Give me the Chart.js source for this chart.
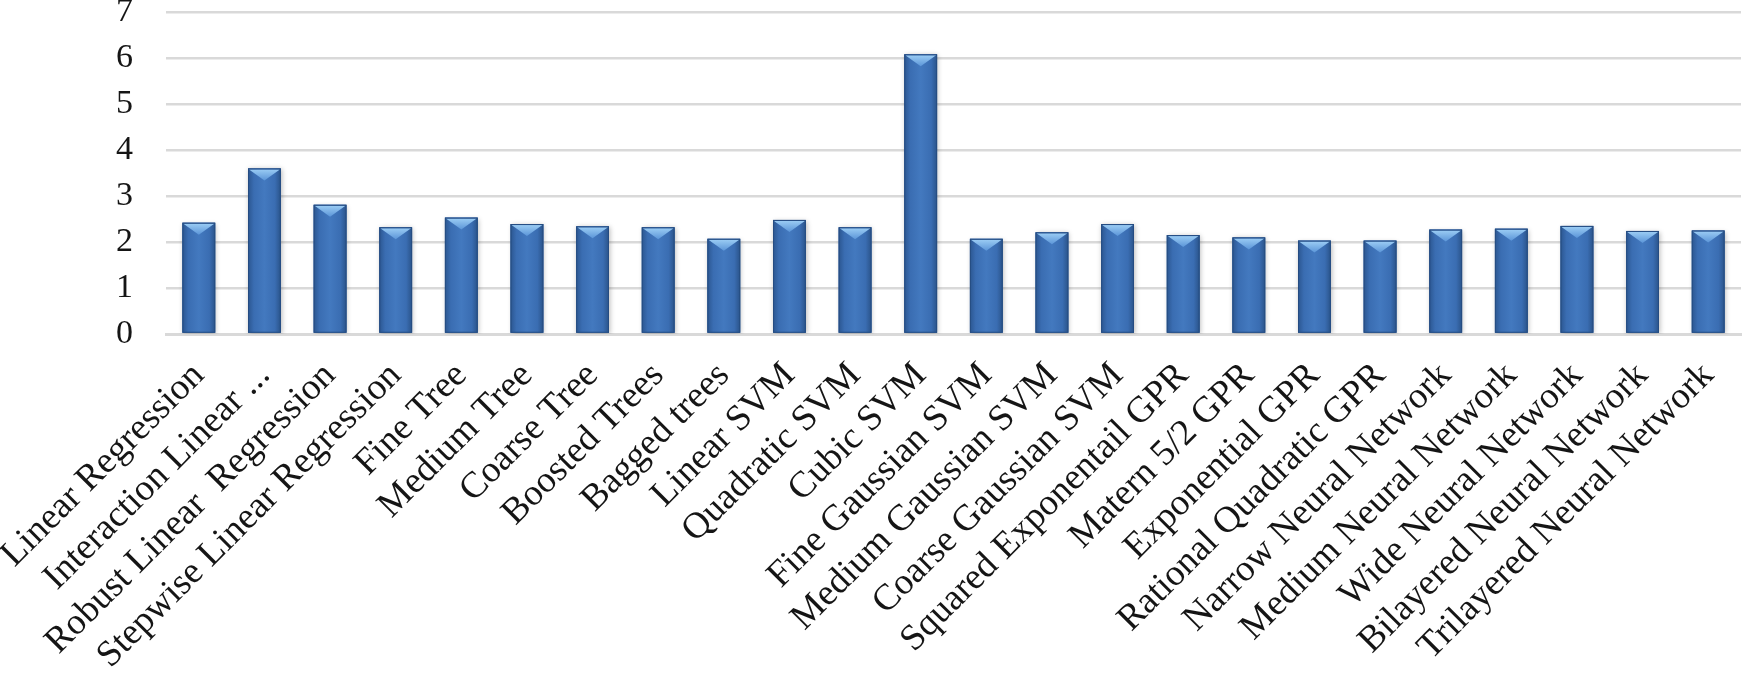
<!DOCTYPE html>
<html>
<head>
<meta charset="utf-8">
<script src="https://cdn.jsdelivr.net/npm/chart.js@4.4.0/dist/chart.umd.min.js"></script>
<style>
    html, body { margin: 0; padding: 0; background: #fff; }
    #wrap { width: 1750px; height: 680px; position: relative; }
</style>
</head>
<body>
<div id="wrap"><canvas id="myChart"></canvas></div>
<script>
const models = [
    'Linear Regression',
    'Interaction Linear ...',
    'Robust Linear  Regression',
    'Stepwise Linear Regression',
    'Fine Tree',
    'Medium Tree',
    'Coarse Tree',
    'Boosted Trees',
    'Bagged trees',
    'Linear SVM',
    'Quadratic SVM',
    'Cubic SVM',
    'Fine Gaussian SVM',
    'Medium Gaussian SVM',
    'Coarse Gaussian SVM',
    'Squared Exponentail GPR',
    'Matern 5/2 GPR',
    'Exponential GPR',
    'Rational Quadratic GPR',
    'Narrow Neural Network',
    'Medium Neural Network',
    'Wide Neural Network',
    'Bilayered Neural Network',
    'Trilayered Neural Network'
];
const errors = [
    2.42, 3.60, 2.81, 2.32, 2.53, 2.39, 2.34, 2.32, 2.07, 2.48, 2.32, 6.08,
    2.07, 2.21, 2.39, 2.15, 2.10, 2.03, 2.03, 2.27, 2.29, 2.35, 2.24, 2.25
];
const yMin = 0;
const yMax = 7;
const yStep = 1;

Chart.defaults.font.family = "'Liberation Serif', 'DejaVu Serif', serif";
Chart.defaults.color = '#151515';

// 3d-ish look: shadow under bars, then a side gradient and a light chevron on top
const bevel = {
    id: 'bevel',
    beforeDatasetsDraw(chart) {
        const ctx = chart.ctx;
        ctx.save();
        ctx.shadowColor = 'rgba(0, 0, 0, 0.28)';
        ctx.shadowBlur = 5;
        ctx.shadowOffsetX = 1;
        ctx.shadowOffsetY = 1;
    },
    afterDatasetsDraw(chart) {
        const ctx = chart.ctx;
        ctx.restore();
        ctx.save();
        chart.getDatasetMeta(0).data.forEach(bar => {
            const { x, y, base, width } = bar.getProps(['x', 'y', 'base', 'width'], true);
            const l = x - width / 2;
            const r = x + width / 2;
            let g = ctx.createLinearGradient(l, 0, r, 0);
            g.addColorStop(0, '#2b5690');
            g.addColorStop(0.18, '#3a6db2');
            g.addColorStop(0.5, '#4379bf');
            g.addColorStop(0.82, '#3a6db2');
            g.addColorStop(1, '#2a5389');
            ctx.fillStyle = g;
            ctx.fillRect(l, y, width, base - y);

            const h = Math.min(12, (base - y) / 2);
            g = ctx.createLinearGradient(0, y, 0, y + h);
            g.addColorStop(0, '#9fd0f6');
            g.addColorStop(1, '#5b95d8');
            ctx.fillStyle = g;
            ctx.beginPath();
            ctx.moveTo(l + 1, y + 1);
            ctx.lineTo(r - 1, y + 1);
            ctx.lineTo(x, y + h);
            ctx.closePath();
            ctx.fill();

            ctx.strokeStyle = '#264d82';
            ctx.lineWidth = 1;
            ctx.strokeRect(l + 0.5, y + 0.5, width - 1, base - y - 1);
        });
        ctx.restore();
    }
};

const ctx = document.getElementById('myChart').getContext('2d');
const myChart = new Chart(ctx, {
    type: 'bar',
    data: {
        labels: models,
        datasets: [
            {
                label: 'Error',
                data: errors,
                backgroundColor: '#3a6db2',
                borderWidth: 0,
                barPercentage: 0.5,
                categoryPercentage: 1.0
            }
        ]
    },
    options: {
        responsive: true,
        maintainAspectRatio: false,
        animation: false,
        layout: { padding: 0 },
        plugins: {
            legend: { display: false },
            tooltip: { enabled: false }
        },
        scales: {
            x: {
                grid: { display: false },
                border: { display: true, color: '#d9d9d9', width: 3 },
                ticks: {
                    minRotation: 45,
                    maxRotation: 45,
                    autoSkip: false,
                    padding: 12,
                    font: { size: 37 }
                },
                afterFit(scale) {
                    scale.height = 346;
                    scale.paddingLeft = 0;
                    scale.paddingRight = 9;
                }
            },
            y: {
                min: yMin,
                max: yMax,
                grid: { color: '#d9d9d9', lineWidth: 2.5, drawTicks: false },
                border: { display: false },
                ticks: {
                    stepSize: yStep,
                    padding: 33,
                    font: { size: 34 }
                },
                afterFit(scale) {
                    scale.width = 166;
                    scale.paddingTop = 12;
                }
            }
        }
    },
    plugins: [bevel]
});
</script>
</body>
</html>
